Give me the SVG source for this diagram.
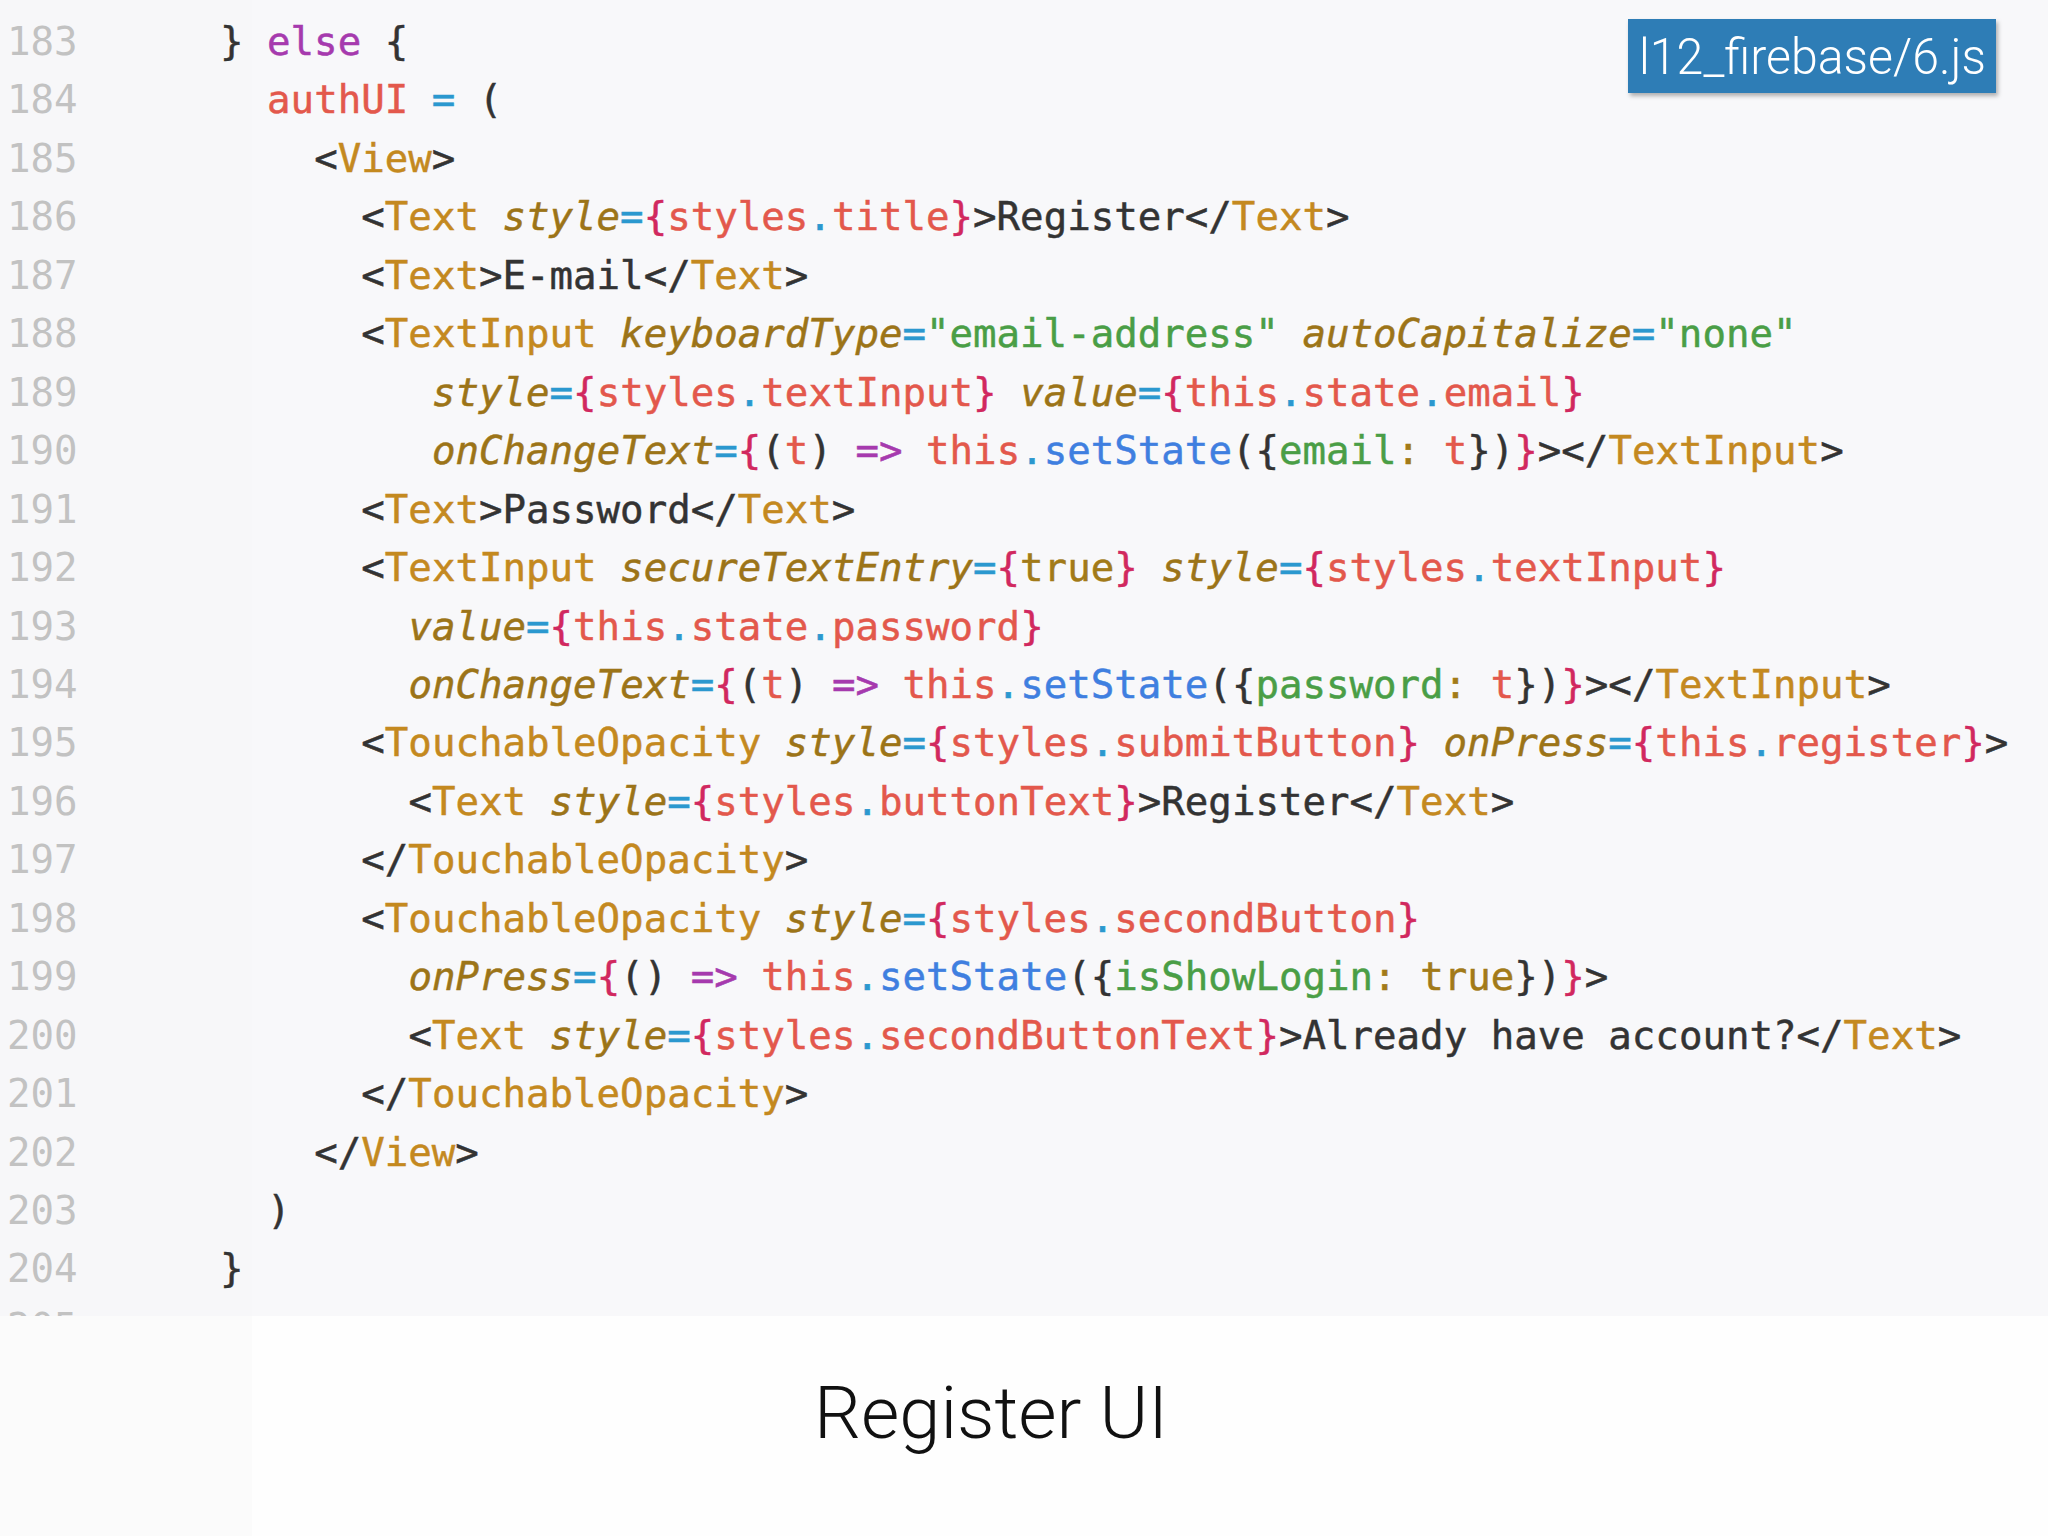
<svg xmlns="http://www.w3.org/2000/svg" width="2048" height="1536" viewBox="0 0 2048 1536">
<style>
.code{font-family:"DejaVu Sans Mono","Liberation Mono",monospace;font-size:39.1px;fill:#333333;stroke:#333333;stroke-width:0.5px;white-space:pre}
.ln{font-family:"DejaVu Sans Mono","Liberation Mono",monospace;font-size:39.1px;fill:#c2c2c2}
.k{fill:#a63aae;stroke:#a63aae}
.r{fill:#e3584c;stroke:#e3584c}
.b{fill:#2b98cf;stroke:#2b98cf}
.f{fill:#3f7fe0;stroke:#3f7fe0}
.g{fill:#4a9e46;stroke:#4a9e46}
.t{fill:#c4891f;stroke:#c4891f}
.a{fill:#9c7418;stroke:#9c7418;font-style:italic}
.v{fill:#a27a18;stroke:#a27a18}
.p{fill:#d1285f;stroke:#d1285f}
.sans{font-family:Roboto,"Liberation Sans",Arial,sans-serif;font-weight:300}
</style>
<defs>
<clipPath id="codeClip"><rect x="0" y="0" width="2048" height="1316"/></clipPath>
<filter id="shadow" x="-10%" y="-20%" width="120%" height="150%">
<feDropShadow dx="2" dy="3" stdDeviation="2" flood-color="#000000" flood-opacity="0.3"/>
</filter>
</defs>
<g id="background">
<rect x="0" y="0" width="2048" height="1536" fill="#fefefe"/>
<rect x="0" y="1316" width="252" height="220" fill="#fbfbfb"/>
<rect x="0" y="0" width="2048" height="1316" fill="#f8f8fa"/>
<rect x="0" y="0" width="252" height="1316" fill="#f7f7f9"/>
</g>
<g id="gutter" clip-path="url(#codeClip)">
<text class="ln" x="7" y="55">183</text>
<text class="ln" x="7" y="113.45">184</text>
<text class="ln" x="7" y="171.9">185</text>
<text class="ln" x="7" y="230.35">186</text>
<text class="ln" x="7" y="288.8">187</text>
<text class="ln" x="7" y="347.25">188</text>
<text class="ln" x="7" y="405.7">189</text>
<text class="ln" x="7" y="464.15">190</text>
<text class="ln" x="7" y="522.6">191</text>
<text class="ln" x="7" y="581.05">192</text>
<text class="ln" x="7" y="639.5">193</text>
<text class="ln" x="7" y="697.95">194</text>
<text class="ln" x="7" y="756.4">195</text>
<text class="ln" x="7" y="814.85">196</text>
<text class="ln" x="7" y="873.3">197</text>
<text class="ln" x="7" y="931.75">198</text>
<text class="ln" x="7" y="990.2">199</text>
<text class="ln" x="7" y="1048.65">200</text>
<text class="ln" x="7" y="1107.1">201</text>
<text class="ln" x="7" y="1165.55">202</text>
<text class="ln" x="7" y="1224">203</text>
<text class="ln" x="7" y="1282.45">204</text>
<text class="ln" x="7" y="1340.9">205</text>
</g>
<g id="code">
<text class="code" xml:space="preserve" x="220" y="55">} <tspan class="k">else</tspan> {</text>
<text class="code" xml:space="preserve" x="267.1" y="113.45"><tspan class="r">authUI</tspan> <tspan class="b">=</tspan> (</text>
<text class="code" xml:space="preserve" x="314.2" y="171.9">&lt;<tspan class="t">View</tspan>&gt;</text>
<text class="code" xml:space="preserve" x="361.3" y="230.35">&lt;<tspan class="t">Text</tspan> <tspan class="a">style</tspan><tspan class="b">=</tspan><tspan class="p">{</tspan><tspan class="r">styles</tspan><tspan class="b">.</tspan><tspan class="r">title</tspan><tspan class="p">}</tspan>&gt;Register&lt;/<tspan class="t">Text</tspan>&gt;</text>
<text class="code" xml:space="preserve" x="361.3" y="288.8">&lt;<tspan class="t">Text</tspan>&gt;E-mail&lt;/<tspan class="t">Text</tspan>&gt;</text>
<text class="code" xml:space="preserve" x="361.3" y="347.25">&lt;<tspan class="t">TextInput</tspan> <tspan class="a">keyboardType</tspan><tspan class="b">=</tspan><tspan class="g">"email-address"</tspan> <tspan class="a">autoCapitalize</tspan><tspan class="b">=</tspan><tspan class="g">"none"</tspan></text>
<text class="code" xml:space="preserve" x="431.95" y="405.7"><tspan class="a">style</tspan><tspan class="b">=</tspan><tspan class="p">{</tspan><tspan class="r">styles</tspan><tspan class="b">.</tspan><tspan class="r">textInput</tspan><tspan class="p">}</tspan> <tspan class="a">value</tspan><tspan class="b">=</tspan><tspan class="p">{</tspan><tspan class="r">this</tspan><tspan class="b">.</tspan><tspan class="r">state</tspan><tspan class="b">.</tspan><tspan class="r">email</tspan><tspan class="p">}</tspan></text>
<text class="code" xml:space="preserve" x="431.95" y="464.15"><tspan class="a">onChangeText</tspan><tspan class="b">=</tspan><tspan class="p">{</tspan>(<tspan class="r">t</tspan>) <tspan class="k">=&gt;</tspan> <tspan class="r">this</tspan><tspan class="b">.</tspan><tspan class="f">setState</tspan>({<tspan class="g">email</tspan><tspan class="v">:</tspan> <tspan class="r">t</tspan>})<tspan class="p">}</tspan>&gt;&lt;/<tspan class="t">TextInput</tspan>&gt;</text>
<text class="code" xml:space="preserve" x="361.3" y="522.6">&lt;<tspan class="t">Text</tspan>&gt;Password&lt;/<tspan class="t">Text</tspan>&gt;</text>
<text class="code" xml:space="preserve" x="361.3" y="581.05">&lt;<tspan class="t">TextInput</tspan> <tspan class="a">secureTextEntry</tspan><tspan class="b">=</tspan><tspan class="p">{</tspan><tspan class="v">true</tspan><tspan class="p">}</tspan> <tspan class="a">style</tspan><tspan class="b">=</tspan><tspan class="p">{</tspan><tspan class="r">styles</tspan><tspan class="b">.</tspan><tspan class="r">textInput</tspan><tspan class="p">}</tspan></text>
<text class="code" xml:space="preserve" x="408.4" y="639.5"><tspan class="a">value</tspan><tspan class="b">=</tspan><tspan class="p">{</tspan><tspan class="r">this</tspan><tspan class="b">.</tspan><tspan class="r">state</tspan><tspan class="b">.</tspan><tspan class="r">password</tspan><tspan class="p">}</tspan></text>
<text class="code" xml:space="preserve" x="408.4" y="697.95"><tspan class="a">onChangeText</tspan><tspan class="b">=</tspan><tspan class="p">{</tspan>(<tspan class="r">t</tspan>) <tspan class="k">=&gt;</tspan> <tspan class="r">this</tspan><tspan class="b">.</tspan><tspan class="f">setState</tspan>({<tspan class="g">password</tspan><tspan class="v">:</tspan> <tspan class="r">t</tspan>})<tspan class="p">}</tspan>&gt;&lt;/<tspan class="t">TextInput</tspan>&gt;</text>
<text class="code" xml:space="preserve" x="361.3" y="756.4">&lt;<tspan class="t">TouchableOpacity</tspan> <tspan class="a">style</tspan><tspan class="b">=</tspan><tspan class="p">{</tspan><tspan class="r">styles</tspan><tspan class="b">.</tspan><tspan class="r">submitButton</tspan><tspan class="p">}</tspan> <tspan class="a">onPress</tspan><tspan class="b">=</tspan><tspan class="p">{</tspan><tspan class="r">this</tspan><tspan class="b">.</tspan><tspan class="r">register</tspan><tspan class="p">}</tspan>&gt;</text>
<text class="code" xml:space="preserve" x="408.4" y="814.85">&lt;<tspan class="t">Text</tspan> <tspan class="a">style</tspan><tspan class="b">=</tspan><tspan class="p">{</tspan><tspan class="r">styles</tspan><tspan class="b">.</tspan><tspan class="r">buttonText</tspan><tspan class="p">}</tspan>&gt;Register&lt;/<tspan class="t">Text</tspan>&gt;</text>
<text class="code" xml:space="preserve" x="361.3" y="873.3">&lt;/<tspan class="t">TouchableOpacity</tspan>&gt;</text>
<text class="code" xml:space="preserve" x="361.3" y="931.75">&lt;<tspan class="t">TouchableOpacity</tspan> <tspan class="a">style</tspan><tspan class="b">=</tspan><tspan class="p">{</tspan><tspan class="r">styles</tspan><tspan class="b">.</tspan><tspan class="r">secondButton</tspan><tspan class="p">}</tspan></text>
<text class="code" xml:space="preserve" x="408.4" y="990.2"><tspan class="a">onPress</tspan><tspan class="b">=</tspan><tspan class="p">{</tspan>() <tspan class="k">=&gt;</tspan> <tspan class="r">this</tspan><tspan class="b">.</tspan><tspan class="f">setState</tspan>({<tspan class="g">isShowLogin</tspan><tspan class="v">:</tspan> <tspan class="v">true</tspan>})<tspan class="p">}</tspan>&gt;</text>
<text class="code" xml:space="preserve" x="408.4" y="1048.65">&lt;<tspan class="t">Text</tspan> <tspan class="a">style</tspan><tspan class="b">=</tspan><tspan class="p">{</tspan><tspan class="r">styles</tspan><tspan class="b">.</tspan><tspan class="r">secondButtonText</tspan><tspan class="p">}</tspan>&gt;Already have account?&lt;/<tspan class="t">Text</tspan>&gt;</text>
<text class="code" xml:space="preserve" x="361.3" y="1107.1">&lt;/<tspan class="t">TouchableOpacity</tspan>&gt;</text>
<text class="code" xml:space="preserve" x="314.2" y="1165.55">&lt;/<tspan class="t">View</tspan>&gt;</text>
<text class="code" xml:space="preserve" x="267.1" y="1224">)</text>
<text class="code" xml:space="preserve" x="220" y="1282.45">}</text>
</g>
<g id="badge">
<rect x="1628" y="19" width="368" height="74" fill="#2f7db6" filter="url(#shadow)"/>
<text class="sans" x="1639" y="74" font-size="50" fill="#ffffff" textLength="347" lengthAdjust="spacingAndGlyphs">l12_firebase/6.js</text>
</g>
<g id="caption">
<text class="sans" x="814" y="1438" font-size="72" fill="#111111" textLength="354" lengthAdjust="spacingAndGlyphs">Register UI</text>
</g>
</svg>
